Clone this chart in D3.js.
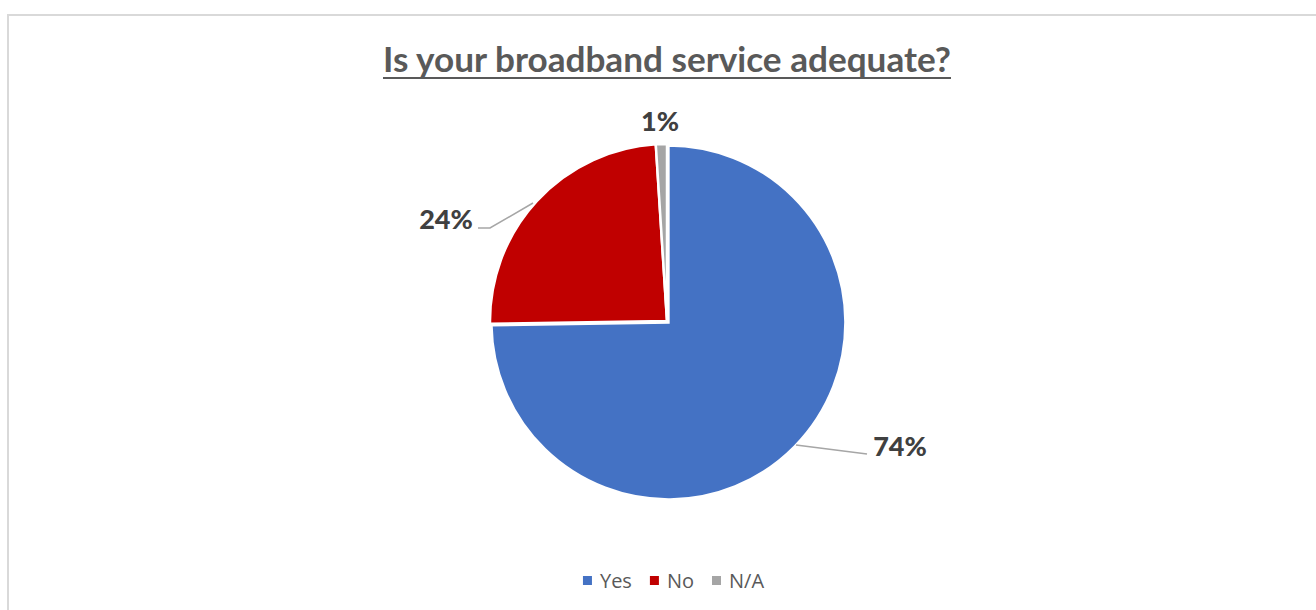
<!DOCTYPE html>
<html>
<head>
<meta charset="utf-8">
<script src="https://cdn.jsdelivr.net/npm/d3@7"></script>
<style>
  html, body { margin: 0; padding: 0; background: #fff; }
  svg { display: block; }
</style>
</head>
<body>
<svg id="chart" width="1316" height="610"></svg>
<script>
// Survey answers and their shares
const categories = ["Yes", "No", "N/A"];
const values = [74, 24, 1];
const labels = ["74%", "24%", "1%"];
const colors = ["#4472C4", "#C00000", "#A5A5A5"];
const title = "Is your broadband service adequate?";

const W = 1316, H = 610;
const svg = d3.select("#chart");

// chart area frame
svg.append("rect")
  .attr("x", 8).attr("y", 15)
  .attr("width", W + 10).attr("height", H + 10)
  .attr("fill", "#fff")
  .attr("stroke", "#d9d9d9").attr("stroke-width", 2);

// title (underlined)
const titleText = svg.append("text")
  .attr("x", 667).attr("y", 72)
  .attr("text-anchor", "middle")
  .attr("font-family", "Lato, 'Open Sans', sans-serif")
  .attr("font-weight", 700)
  .attr("font-size", 31)
  .attr("fill", "#595959")
  .text(title);
const tw = titleText.node().getComputedTextLength();
const titleWidth = 568;
titleText.attr("font-size", 31 * titleWidth / tw);
svg.append("line")
  .attr("x1", 667 - titleWidth / 2).attr("x2", 667 + titleWidth / 2)
  .attr("y1", 78).attr("y2", 78)
  .attr("stroke", "#595959").attr("stroke-width", 2.2);

// pie
const cx = 667, cy = 321, r = 177;
const pie = d3.pie().sort(null).value(d => d)(values);
const arc = d3.arc().innerRadius(0).outerRadius(r);
const g = svg.append("g").attr("transform", `translate(${cx},${cy})`);

const explode = [2, 0, 0];
g.selectAll("path.slice")
  .data(pie)
  .join("path")
  .attr("class", "slice")
  .attr("d", arc)
  .attr("fill", (d, i) => colors[i])
  .attr("stroke", "#fff")
  .attr("stroke-width", 2.5)
  .attr("stroke-linejoin", "miter")
  .attr("transform", (d, i) => {
    const a = (d.startAngle + d.endAngle) / 2;
    return `translate(${Math.sin(a) * explode[i]},${-Math.cos(a) * explode[i]})`;
  });

// data labels with leader lines
const labelFont = "Lato, 'Open Sans', sans-serif";
const labelPos = [
  { x: 900, y: 456, anchor: "middle",
    line: [[796 - cx, 445 - cy], [867 - cx, 454 - cy]] },
  { x: 446, y: 229, anchor: "middle",
    line: [[533 - cx, 203 - cy], [490 - cx, 228 - cy], [478 - cx, 228 - cy]] },
  { x: 660, y: 131, anchor: "middle", line: null }
];

pie.forEach((d, i) => {
  const p = labelPos[i];
  if (p.line) {
    svg.append("path")
      .attr("transform", `translate(${cx},${cy})`)
      .attr("d", d3.line()(p.line))
      .attr("fill", "none")
      .attr("stroke", "#a6a6a6")
      .attr("stroke-width", 1.5);
  }
  svg.append("text")
    .attr("x", p.x).attr("y", p.y)
    .attr("text-anchor", p.anchor)
    .attr("font-family", labelFont)
    .attr("font-weight", 900)
    .attr("font-size", 27)
    .attr("fill", "#404040")
    .text(labels[i]);
});

// legend
const legend = svg.append("g");
const legendY = 581;
let xPos = 0;
categories.forEach((c, i) => {
  const item = legend.append("g");
  item.append("rect")
    .attr("x", 0).attr("y", legendY - 5)
    .attr("width", 9).attr("height", 9)
    .attr("fill", colors[i]);
  const t = item.append("text")
    .attr("x", 17).attr("y", legendY + 7)
    .attr("font-family", "'Open Sans', sans-serif")
    .attr("font-size", 20)
    .attr("fill", "#595959")
    .text(c);
  const w = 17 + t.node().getComputedTextLength();
  item.attr("transform", `translate(${xPos},0)`);
  xPos += w + 18;
});
const legendWidth = xPos - 18;
legend.attr("transform", `translate(${673.5 - legendWidth / 2},0)`);
</script>
</body>
</html>
